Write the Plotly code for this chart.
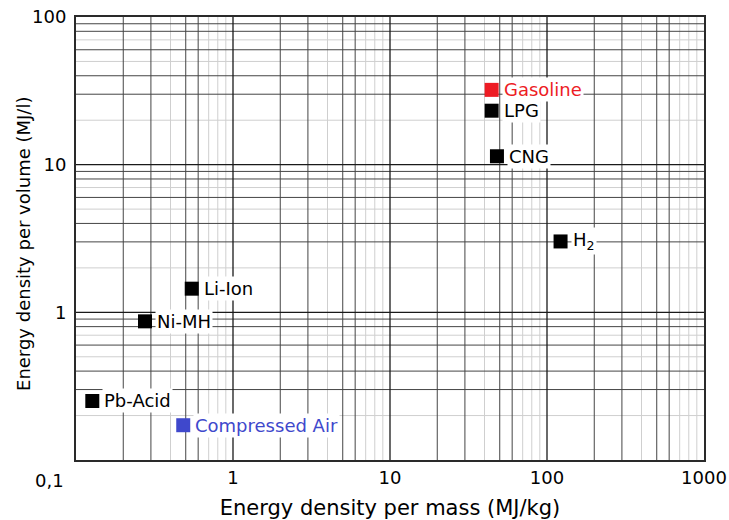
import math
import plotly.graph_objects as go

# Data
names = ["Gasoline", "LPG", "CNG", "H<sub>2</sub>", "Li-Ion", "Ni-MH", "Pb-Acid", "Compressed Air"]
mass_density = [44.4, 44.4, 48.0, 122, 0.546, 0.275, 0.127, 0.482]      # MJ/kg
volume_density = [32.1, 23.2, 11.4, 3.02, 1.446, 0.869, 0.251, 0.172]  # MJ/l
colors = ["#ED1C24", "#000000", "#000000", "#000000", "#000000", "#000000", "#000000", "#3F48CC"]

x_ticks = [1, 10, 100, 1000]
x_ticktext = ["1", "10", "100", "1000"]
y_ticks = [1, 10, 100]
y_ticktext = ["1", "10", "100"]

XMIN, XMAX = 0.1, 1000
YMIN, YMAX = 0.1, 100

FONT = "DejaVu Sans, Arial, sans-serif"

fig = go.Figure()

# grid lines drawn as traces
def grid_lines(values, vertical, color, width):
    xs, ys = [], []
    for v in values:
        if vertical:
            xs += [v, v, None]; ys += [YMIN, YMAX, None]
        else:
            xs += [XMIN, XMAX, None]; ys += [v, v, None]
    fig.add_trace(go.Scatter(x=xs, y=ys, mode="lines", line=dict(color=color, width=width),
                             hoverinfo="skip", showlegend=False))

x_dark_digits = [2, 3, 5, 6]
x_gray_digits = [4, 7, 8, 9]
y_dark_digits = [3, 4, 6, 8, 9]
y_gray_digits = [2, 5, 7]

def decade_values(lo, hi, digits):
    out = []
    e = lo
    while 10 ** e < hi:
        for d in digits:
            out.append(d * 10 ** e)
        e += 1
    return out

grid_lines(decade_values(-1, XMAX, x_gray_digits), True, "#cfcfcf", 1)
grid_lines(decade_values(-1, YMAX, y_gray_digits), False, "#cfcfcf", 1)
grid_lines(decade_values(-1, XMAX, x_dark_digits), True, "#454545", 1)
grid_lines(decade_values(-1, YMAX, y_dark_digits), False, "#454545", 1)
grid_lines([1, 10, 100], True, "#1a1a1a", 1.3)
grid_lines([1, 10], False, "#1a1a1a", 1.3)

fig.add_trace(go.Scatter(
    x=mass_density, y=volume_density, mode="markers",
    marker=dict(symbol="square", size=14, color=colors, line=dict(width=0)),
    showlegend=False, hoverinfo="skip"))

for n, xv, yv, c in zip(names, mass_density, volume_density, colors):
    fig.add_annotation(x=math.log10(xv), y=math.log10(yv), xref="x", yref="y",
                       text=n, showarrow=False, xanchor="left", yanchor="middle",
                       xshift=10, bgcolor="white", borderpad=1,
                       font=dict(family=FONT, size=18, color=c))

fig.add_annotation(x=0, y=0, xref="paper", yref="paper", text="0,1", showarrow=False,
                   xanchor="center", yanchor="top", xshift=-27, yshift=-8,
                   font=dict(family=FONT, size=18, color="#000"))

# y-axis title
fig.add_annotation(x=0, y=0.4876, xref="paper", yref="paper",
                   text="Energy density per volume (MJ/l)", textangle=-90, showarrow=False,
                   xanchor="center", yanchor="middle", xshift=-52,
                   font=dict(family=FONT, size=18, color="#000"))

axis_common = dict(type="log", showgrid=False, zeroline=False, showline=True, linecolor="#2a2a2a",
                   linewidth=2, mirror=True, ticks="", automargin=False,
                   tickfont=dict(family=FONT, size=18, color="#000"))

fig.update_xaxes(range=[math.log10(XMIN), math.log10(XMAX)], tickvals=x_ticks, ticktext=x_ticktext,
                 title=dict(text="Energy density per mass (MJ/kg)", standoff=14,
                            font=dict(family=FONT, size=21, color="#000")),
                 **axis_common)
fig.update_yaxes(range=[math.log10(YMIN), math.log10(YMAX)], tickvals=y_ticks, ticktext=y_ticktext,
                 ticklabelstandoff=4, **axis_common)

fig.update_layout(width=729, height=520, margin=dict(l=76, r=25, t=17, b=60),
                  plot_bgcolor="white", paper_bgcolor="white")

fig.write_html("out.html", config={"displayModeBar": False},
               post_script="document.body.style.margin='0';")
